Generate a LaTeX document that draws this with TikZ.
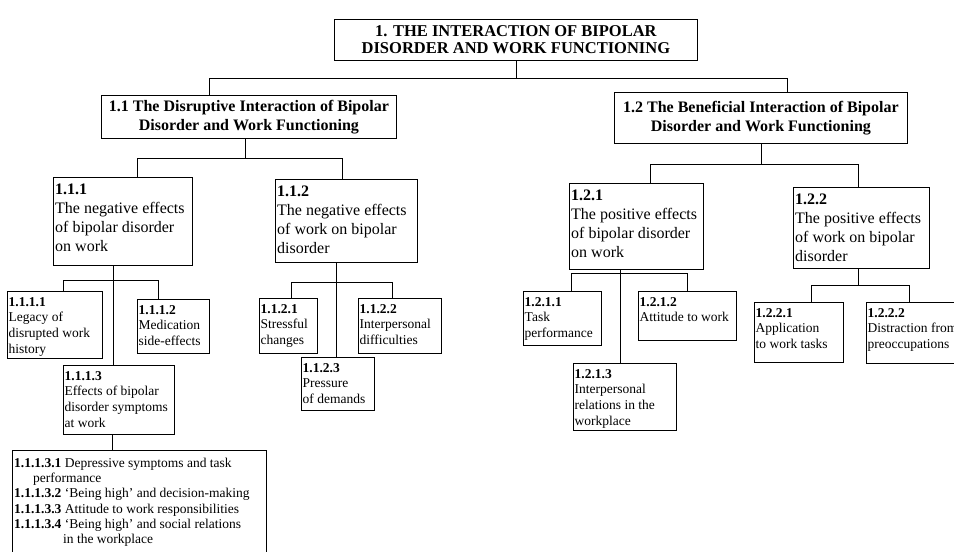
\documentclass[tikz,border=0pt]{standalone}
\usepackage{fontspec}
\setmainfont{Liberation Serif}
\usetikzlibrary{calc}
\begin{document}
\begin{tikzpicture}[x=1pt,y=-1pt,
  bx/.style={draw, line width=0.8pt, inner sep=0pt, rectangle, anchor=north west},
  headtxt/.style={font=\bfseries\fontsize{16}{19}\selectfont, align=center},
  toptxt/.style={font=\bfseries\fontsize{16.5}{17.5}\selectfont, align=center},
  midtxt/.style={anchor=north west, align=left, inner xsep=2pt, inner ysep=7pt, font=\fontsize{16}{19}\selectfont},
  leaftxt/.style={anchor=north west, align=left, inner xsep=1.5pt, inner ysep=6pt, font=\fontsize{13.5}{15.7}\selectfont},
  bigtxt/.style={anchor=north west, align=left, inner xsep=2pt, inner ysep=8pt, font=\fontsize{13.5}{15.2}\selectfont},
  ln/.style={line width=0.8pt}]
\useasboundingbox (0,0) rectangle (954,552);
\clip (0,0) rectangle (954,552);

% level 0 and 1
\node[bx, toptxt, minimum width=363pt, minimum height=41pt] (top) at (334,19)
  {1. THE INTERACTION OF BIPOLAR\\DISORDER AND WORK FUNCTIONING};
\node[bx, headtxt, minimum width=295pt, minimum height=43pt] (n1) at (101,95)
  {1.1 The Disruptive Interaction of Bipolar\\Disorder and Work Functioning};
\node[bx, headtxt, minimum width=293pt, minimum height=51pt] (n2) at (614,92)
  {1.2 The Beneficial Interaction of Bipolar\\Disorder and Work Functioning};

% level 2
\node[bx, minimum width=139pt, minimum height=88pt] (n11) at (53,177) {};
\node[midtxt] (n11t) at (n11.north west) {\textbf{1.1.1}\\The negative effects\\of bipolar disorder\\on work};
\node[bx, minimum width=142pt, minimum height=83pt] (n12) at (275,179) {};
\node[midtxt] (n12t) at (n12.north west) {\textbf{1.1.2}\\The negative effects\\of work on bipolar\\disorder};
\node[bx, minimum width=134pt, minimum height=86pt] (n21) at (569,183) {};
\node[midtxt] (n21t) at (n21.north west) {\textbf{1.2.1}\\The positive effects\\of bipolar disorder\\on work};
\node[bx, minimum width=136pt, minimum height=81pt] (n22) at (793,187) {};
\node[midtxt] (n22t) at (n22.north west) {\textbf{1.2.2}\\The positive effects\\of work on bipolar\\disorder};

% level 3
\node[bx, minimum width=95pt, minimum height=67pt] (n111) at (7,291) {};
\node[leaftxt] (n111t) at (n111.north west) {\textbf{1.1.1.1}\\Legacy of\\disrupted work\\history};
\node[bx, minimum width=72pt, minimum height=54pt] (n112) at (137,299) {};
\node[leaftxt] (n112t) at (n112.north west) {\textbf{1.1.1.2}\\Medication\\side-effects};
\node[bx, minimum width=111pt, minimum height=69pt] (n113) at (63,365) {};
\node[leaftxt] (n113t) at (n113.north west) {\textbf{1.1.1.3}\\Effects of bipolar\\disorder symptoms\\at work};
\node[bx, minimum width=58pt, minimum height=55pt] (n121) at (259,298) {};
\node[leaftxt] (n121t) at (n121.north west) {\textbf{1.1.2.1}\\Stressful\\changes};
\node[bx, minimum width=83pt, minimum height=55pt] (n122) at (358,298) {};
\node[leaftxt] (n122t) at (n122.north west) {\textbf{1.1.2.2}\\Interpersonal\\difficulties};
\node[bx, minimum width=73pt, minimum height=53pt] (n123) at (301,357) {};
\node[leaftxt] (n123t) at (n123.north west) {\textbf{1.1.2.3}\\Pressure\\of demands};
\node[bx, minimum width=78pt, minimum height=54pt] (n211) at (523,291) {};
\node[leaftxt] (n211t) at (n211.north west) {\textbf{1.2.1.1}\\Task\\performance};
\node[bx, minimum width=98pt, minimum height=49pt] (n212) at (638,291) {};
\node[leaftxt] (n212t) at (n212.north west) {\textbf{1.2.1.2}\\Attitude to work};
\node[bx, minimum width=103pt, minimum height=67pt] (n213) at (573,363) {};
\node[leaftxt] (n213t) at (n213.north west) {\textbf{1.2.1.3}\\Interpersonal\\relations in the\\workplace};
\node[bx, minimum width=89pt, minimum height=60pt] (n221) at (754,302) {};
\node[leaftxt] (n221t) at (n221.north west) {\textbf{1.2.2.1}\\Application\\to work tasks};
\node[bx, minimum width=96pt, minimum height=61pt] (n222) at (866,302) {};
\node[leaftxt] (n222t) at (n222.north west) {\textbf{1.2.2.2}\\Distraction from\\preoccupations};

% level 4
\node[bx, minimum width=254pt, minimum height=110pt] (n1131) at (12,450) {};
\node[bigtxt] (n1131t) at (n1131.north west) {\textbf{1.1.1.3.1} Depressive symptoms and task\\\hspace*{19pt}performance\\\textbf{1.1.1.3.2} ‘Being high’ and decision-making\\\textbf{1.1.1.3.3} Attitude to work responsibilities\\\textbf{1.1.1.3.4} ‘Being high’ and social relations\\\hspace*{49pt}in the workplace};

% junctions
\coordinate (a1) at (209,78); \coordinate (a2) at (787,78);
\coordinate (b0) at (245,158); \coordinate (b1) at (137.5,158); \coordinate (b2) at (342,158);
\coordinate (c1) at (650,164); \coordinate (c2) at (858,164);
\coordinate (d0) at (113,280); \coordinate (d1) at (63,280); \coordinate (d2) at (158,280);
\coordinate (e0) at (336,282); \coordinate (e1) at (291,282); \coordinate (e2) at (392,282);
\coordinate (f0) at (112,440);
\coordinate (g0) at (620,273); \coordinate (g1) at (571,273); \coordinate (g2) at (687,273);
\coordinate (h0) at (858,285); \coordinate (h1) at (811,285); \coordinate (h2) at (909,285);

% connectors
\draw[ln] (top.south) -- (top.south |- a1);
\draw[ln] (n1.north -| a1) -- (a1) -- (a2) -- (n2.north -| a2);
\draw[ln] (n1.south -| b0) -- (b0);
\draw[ln] (n11.north -| b1) -- (b1) -- (b2) -- (n12.north -| b2);
\draw[ln] (n2.south) -- (n2.south |- c1);
\draw[ln] (n21.north -| c1) -- (c1) -- (c2) -- (n22.north -| c2);
\draw[ln] (n11.south -| d0) -- (n113.north -| d0);
\draw[ln] (n111.north -| d1) -- (d1) -- (d2) -- (n112.north -| d2);
\draw[ln] (n12.south -| e0) -- (n123.north -| e0);
\draw[ln] (n121.north -| e1) -- (e1) -- (e2) -- (n122.north -| e2);
\draw[ln] (n113.south -| f0) -- (n1131.north -| f0);
\draw[ln] (n21.south -| g0) -- (n213.north -| g0);
\draw[ln] (n211.north -| g1) -- (g1) -- (g2) -- (n212.north -| g2);
\draw[ln] (n22.south -| h0) -- (h0);
\draw[ln] (n221.north -| h1) -- (h1) -- (h2) -- (n222.north -| h2);
\end{tikzpicture}
\end{document}
